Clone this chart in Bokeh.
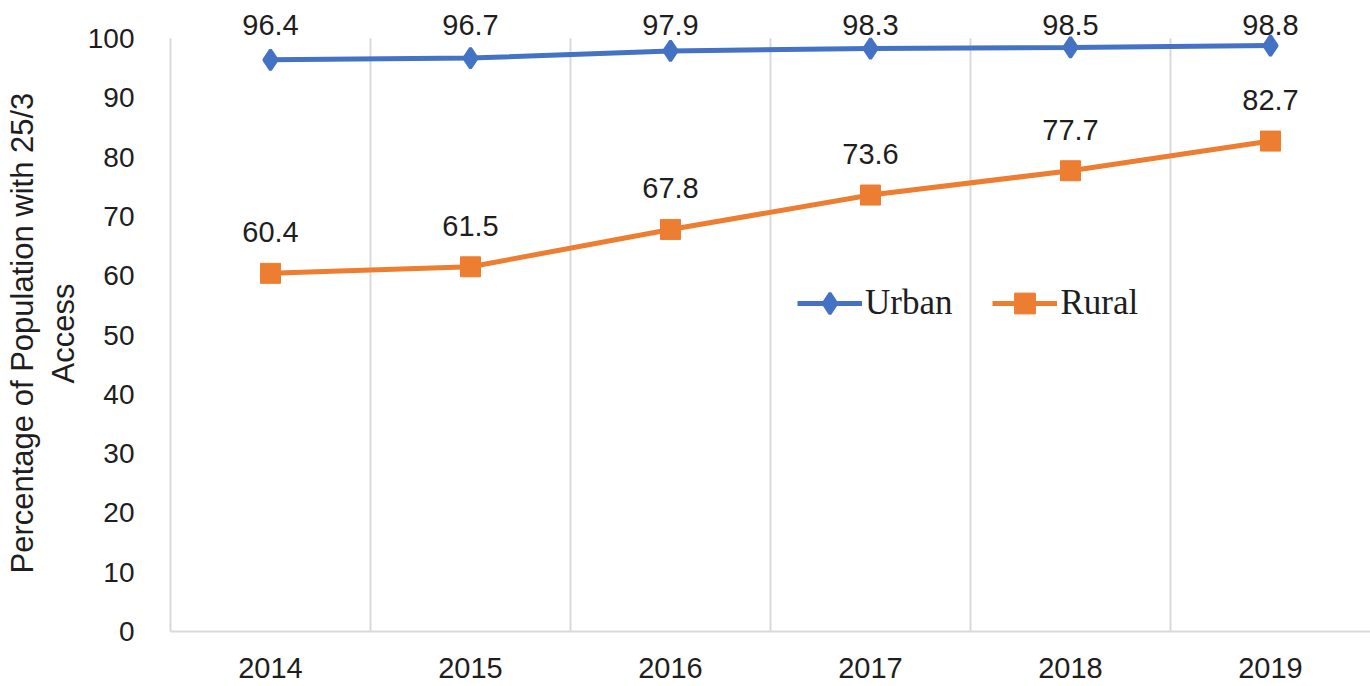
from bokeh.plotting import figure
from bokeh.models import FixedTicker, Legend, LegendItem, Title
from bokeh.core.properties import value
from bokeh.embed import file_html
from bokeh.resources import INLINE

years = ["2014", "2015", "2016", "2017", "2018", "2019"]
urban = [96.4, 96.7, 97.9, 98.3, 98.5, 98.8]
rural = [60.4, 61.5, 67.8, 73.6, 77.7, 82.7]
y_ticks = list(range(0, 101, 10))
y_title = ["Percentage of Population with 25/3", "Access"]

URBAN_C = "#4472C4"
RURAL_C = "#ED7D31"
GRID_C = "#d9d9d9"
TEXT_C = "#1e1e1e"

W, H = 1370, 686
BORDER_L, BORDER_B = 170, 55
FRAME_H = H - BORDER_B          # frame runs from the top of the page
AXIS_PX = 593                   # pixels used by 0..100
y_end = y_ticks[-1] * FRAME_H / AXIS_PX

x = list(range(len(years)))

p = figure(width=W, height=H, output_backend="svg", toolbar_location=None,
           x_range=(-0.5, len(years) - 0.5), y_range=(y_ticks[0], y_end),
           min_border_left=BORDER_L, min_border_right=0, min_border_top=0,
           min_border_bottom=BORDER_B)
p.outline_line_color = None
p.background_fill_color = "white"
p.border_fill_color = "white"

# grid: vertical lines at category boundaries, spanning 0..100
p.ygrid.visible = False
p.xgrid.ticker = FixedTicker(ticks=[i + 0.5 for i in range(len(years))])
p.xgrid.grid_line_color = GRID_C
p.xgrid.grid_line_width = 2
if "cross_bounds" in p.xgrid.properties():
    p.xgrid.cross_bounds = (y_ticks[0], y_ticks[-1])

# series
u_line = p.line(x, urban, line_color=URBAN_C, line_width=5)
u_pts = p.scatter(x, urban, marker="diamond", size=20, fill_color=URBAN_C,
                  line_color=URBAN_C, line_width=3)
r_line = p.line(x, rural, line_color=RURAL_C, line_width=5)
r_pts = p.scatter(x, rural, marker="square", size=20, fill_color=RURAL_C,
                  line_color=RURAL_C, line_width=1)

# data labels (urban labels are held at the top of the plot area)
p.text(x, [min(v + 4.05, 100.5) for v in urban], text=[f"{v:.1f}" for v in urban],
       y_offset=-11,
       text_font=value("Liberation Sans"), text_font_size="29px",
       text_align="center", text_baseline="alphabetic", text_color=TEXT_C)
p.text(x, rural, text=[f"{v:.1f}" for v in rural], y_offset=-41,
       text_font=value("Liberation Sans"), text_font_size="29px",
       text_align="center", text_baseline="alphabetic", text_color=TEXT_C)

# legend
legend = Legend(items=[LegendItem(label="Urban", renderers=[u_line, u_pts]),
                       LegendItem(label="Rural", renderers=[r_line, r_pts])],
                location=(627, 302), orientation="horizontal",
                glyph_width=65, glyph_height=52, label_standoff=3, spacing=40,
                padding=0, margin=0, border_line_color=None,
                background_fill_alpha=0,
                label_text_font="Liberation Serif", label_text_font_size="35px",
                label_text_color=TEXT_C)
p.add_layout(legend)

# y axis
p.yaxis.ticker = FixedTicker(ticks=y_ticks)
p.yaxis.bounds = (y_ticks[0], y_ticks[-1])
p.yaxis.major_tick_line_color = None
p.yaxis.minor_tick_line_color = None
p.yaxis.axis_line_color = GRID_C
p.yaxis.axis_line_width = 2
p.yaxis.major_label_text_font = "Liberation Sans"
p.yaxis.major_label_text_font_size = "28px"
p.yaxis.major_label_text_color = TEXT_C
p.yaxis.major_label_standoff = 30

# y title: two lines, centred on the 0..100 span (offsets from frame bottom)
for text, off, so in ((y_title[1], 248, 8), (y_title[0], 58, 0)):
    p.add_layout(Title(text=text, align="left", offset=off, standoff=so,
                       text_font="Liberation Sans", text_font_style="normal",
                       text_font_size="31px", text_color=TEXT_C), "left")

# x axis
p.xaxis.ticker = FixedTicker(ticks=x)
p.xaxis.major_label_overrides = {i: y for i, y in enumerate(years)}
p.xaxis.major_tick_line_color = None
p.xaxis.minor_tick_line_color = None
p.xaxis.axis_line_color = GRID_C
p.xaxis.axis_line_width = 2
p.xaxis.major_label_text_font = "Liberation Sans"
p.xaxis.major_label_text_font_size = "29px"
p.xaxis.major_label_text_color = TEXT_C
p.xaxis.major_label_standoff = 20

open("out.html", "w").write(file_html(p, INLINE))
